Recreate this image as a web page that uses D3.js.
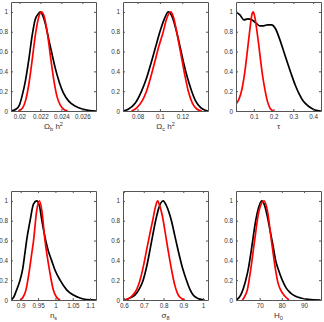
<!DOCTYPE html>
<html lang="en">
<head>
  <meta charset="UTF-8">
  <title>Marginal posteriors</title>
  <script src="https://cdn.jsdelivr.net/npm/d3@7"></script>
  <style>
    body { margin: 0; background: #fff; }
    text { font-family: "Liberation Sans", Arial, sans-serif; fill: #333; }
    .axis path, .axis line { stroke: #555; }
  </style>
</head>
<body>
<svg width="324" height="322"></svg>
<script>
// ---- data ----
var yTicks = [0, 0.2, 0.4, 0.6, 0.8, 1];

var obDomain = [0.0192, 0.0273];
var obTicks = [0.02, 0.022, 0.024, 0.026];
var obBlack = [[0.0192,0],[0.0197,0.02],[0.0200,0.06],[0.0203,0.17],[0.0206,0.32],[0.0209,0.52],[0.0212,0.75],[0.0215,0.92],[0.0218,0.98],[0.0220,1.0],[0.0222,0.97],[0.0225,0.87],[0.0228,0.72],[0.0231,0.58],[0.0234,0.44],[0.0238,0.29],[0.0242,0.18],[0.0247,0.10],[0.0253,0.05],[0.0260,0.02],[0.0267,0.005],[0.0273,0]];
var obRed = [[0.0199,0],[0.0203,0.03],[0.0206,0.11],[0.0209,0.27],[0.0212,0.5],[0.0215,0.75],[0.0218,0.93],[0.0221,1.0],[0.0224,0.94],[0.0227,0.76],[0.0230,0.52],[0.0233,0.3],[0.0236,0.14],[0.0239,0.06],[0.0242,0.02],[0.0246,0]];

var ocDomain = [0.067, 0.143];
var ocTicks = [0.08, 0.1, 0.12];
var ocBlack = [[0.067,0],[0.072,0.02],[0.078,0.08],[0.0836,0.2],[0.088,0.33],[0.0925,0.5],[0.096,0.64],[0.100,0.8],[0.104,0.93],[0.1075,1.0],[0.111,0.95],[0.1149,0.8],[0.118,0.65],[0.1209,0.5],[0.1245,0.34],[0.1284,0.2],[0.132,0.1],[0.136,0.04],[0.140,0.01],[0.143,0]];
var ocRed = [[0.0746,0],[0.079,0.03],[0.084,0.1],[0.088,0.2],[0.092,0.35],[0.0955,0.5],[0.099,0.65],[0.103,0.8],[0.106,0.93],[0.1096,1.0],[0.112,0.95],[0.115,0.8],[0.1175,0.65],[0.120,0.5],[0.1225,0.35],[0.1254,0.2],[0.129,0.08],[0.133,0.02],[0.1373,0]];

var tauDomain = [0.01, 0.44];
var tauTicks = [0.1, 0.2, 0.3, 0.4];
var tauBlack = [[0.01,1.0],[0.03,0.97],[0.05,0.92],[0.07,0.93],[0.09,0.92],[0.11,0.89],[0.13,0.86],[0.15,0.86],[0.17,0.87],[0.19,0.87],[0.21,0.83],[0.23,0.73],[0.25,0.61],[0.27,0.49],[0.29,0.37],[0.31,0.26],[0.33,0.17],[0.35,0.10],[0.37,0.06],[0.39,0.03],[0.41,0.01],[0.44,0]];
var tauRed = [[0.01,0.07],[0.025,0.12],[0.04,0.22],[0.055,0.4],[0.07,0.65],[0.08,0.82],[0.09,0.97],[0.097,1.0],[0.105,0.95],[0.115,0.82],[0.125,0.67],[0.135,0.5],[0.145,0.35],[0.155,0.23],[0.165,0.13],[0.175,0.06],[0.185,0.02],[0.2,0]];

var nsDomain = [0.872, 1.117];
var nsTicks = [0.9, 0.95, 1, 1.05, 1.1];
var nsBlack = [[0.872,0],[0.880,0.03],[0.888,0.1],[0.898,0.2],[0.906,0.32],[0.912,0.47],[0.917,0.6],[0.927,0.8],[0.937,0.97],[0.946,1.0],[0.954,0.95],[0.961,0.8],[0.972,0.6],[0.980,0.49],[0.989,0.4],[0.999,0.3],[1.0135,0.2],[1.033,0.1],[1.052,0.05],[1.071,0.02],[1.09,0.005],[1.117,0]];
var nsRed = [[0.898,0],[0.907,0.03],[0.915,0.1],[0.925,0.3],[0.931,0.45],[0.937,0.6],[0.946,0.9],[0.954,1.0],[0.961,0.9],[0.970,0.6],[0.976,0.45],[0.983,0.3],[0.994,0.1],[1.003,0.03],[1.0135,0]];

var s8Domain = [0.595, 1.025];
var s8Ticks = [0.6, 0.7, 0.8, 0.9, 1];
var s8Black = [[0.605,0],[0.63,0.02],[0.655,0.05],[0.677,0.11],[0.697,0.2],[0.714,0.33],[0.731,0.5],[0.746,0.66],[0.760,0.8],[0.778,0.94],[0.798,1.0],[0.815,0.95],[0.84,0.8],[0.857,0.65],[0.874,0.5],[0.895,0.33],[0.916,0.2],[0.933,0.11],[0.95,0.05],[0.975,0.015],[1.008,0]];
var s8Red = [[0.598,0],[0.62,0.01],[0.645,0.05],[0.665,0.11],[0.681,0.2],[0.698,0.34],[0.714,0.5],[0.730,0.66],[0.745,0.8],[0.758,0.93],[0.770,1.0],[0.781,0.95],[0.795,0.84],[0.807,0.7],[0.82,0.54],[0.832,0.4],[0.845,0.26],[0.857,0.15],[0.870,0.07],[0.882,0.03],[0.907,0]];

var h0Domain = [59.3, 97.7];
var h0Ticks = [70, 80, 90];
var h0Black = [[59.5,0],[61.4,0.05],[63.7,0.2],[65.0,0.33],[66.2,0.5],[68.2,0.8],[69.5,0.93],[70.9,1.0],[72.3,0.95],[73.5,0.84],[74.7,0.7],[76.0,0.55],[77.2,0.4],[78.7,0.29],[80.2,0.2],[82.0,0.12],[84.0,0.07],[86.0,0.04],[88.5,0.02],[92,0.007],[97.5,0]];
var h0Red = [[62.2,0],[63.3,0.04],[64.4,0.1],[65.9,0.3],[67.7,0.6],[69.7,0.9],[72.0,1.0],[73.5,0.9],[75.3,0.6],[77.2,0.3],[78.3,0.17],[79.5,0.1],[81.3,0.04],[83.2,0]];

var panels = [
  {x: 11, y: 2, domain: obDomain, ticks: obTicks, black: obBlack, red: obRed, label: ["\u03A9", "b", " h", "2"]},
  {x: 123, y: 2, domain: ocDomain, ticks: ocTicks, black: ocBlack, red: ocRed, label: ["\u03A9", "c", " h", "2"]},
  {x: 236, y: 2, domain: tauDomain, ticks: tauTicks, black: tauBlack, red: tauRed, label: ["\u03C4"]},
  {x: 11, y: 191, domain: nsDomain, ticks: nsTicks, black: nsBlack, red: nsRed, label: ["n", "s"]},
  {x: 123, y: 191, domain: s8Domain, ticks: s8Ticks, black: s8Black, red: s8Red, label: ["\u03C3", "8"]},
  {x: 236, y: 191, domain: h0Domain, ticks: h0Ticks, black: h0Black, red: h0Red, label: ["H", "0"]}
];

var pw = 85, ph = 109;
var svg = d3.select("svg");
var fmt = function(d) { return String(d); };

panels.forEach(function(p, i) {
  var g = svg.append("g").attr("transform", "translate(" + p.x + "," + p.y + ")");
  var x = d3.scaleLinear().domain(p.domain).range([0, pw]);
  var y = d3.scaleLinear().domain([0, 1.1]).range([ph, 0]);

  g.append("clipPath").attr("id", "c" + i)
    .append("rect").attr("width", pw).attr("height", ph);

  var line = d3.line()
    .x(function(d) { return x(d[0]); })
    .y(function(d) { return y(d[1]); })
    .curve(d3.curveMonotoneX);

  var plot = g.append("g").attr("clip-path", "url(#c" + i + ")");
  plot.append("path").datum(p.black)
    .attr("d", line).attr("fill", "none").attr("stroke", "#000").attr("stroke-width", 1.7);
  plot.append("path").datum(p.red)
    .attr("d", line).attr("fill", "none").attr("stroke", "#f00").attr("stroke-width", 1.7);

  // axes, matlab style: inward ticks, boxed
  g.append("g").attr("class", "axis").attr("transform", "translate(0," + ph + ")")
    .call(d3.axisBottom(x).tickValues(p.ticks).tickFormat(fmt).tickSizeInner(-2).tickSizeOuter(0).tickPadding(4));
  g.append("g").attr("class", "axis")
    .call(d3.axisLeft(y).tickValues(yTicks).tickFormat(fmt).tickSizeInner(-2).tickSizeOuter(0).tickPadding(3));
  g.append("g").attr("class", "axis")
    .call(d3.axisTop(x).tickValues(p.ticks).tickFormat("").tickSizeInner(-2).tickSizeOuter(0));
  g.append("g").attr("class", "axis").attr("transform", "translate(" + pw + ",0)")
    .call(d3.axisRight(y).tickValues(yTicks).tickFormat("").tickSizeInner(-2).tickSizeOuter(0));
  g.selectAll(".axis text").style("font-size", "6.3px").attr("fill", "#333");
  g.selectAll(".axis .domain").attr("stroke", "#555");

  // x label with sub/superscripts
  var t = g.append("text").attr("x", pw / 2).attr("y", ph + 18)
    .attr("text-anchor", "middle").style("font-size", "8px");
  t.append("tspan").text(p.label[0]);
  if (p.label.length > 1) {
    t.append("tspan").attr("dy", 2).style("font-size", "5.5px").text(p.label[1]);
  }
  if (p.label.length > 2) {
    t.append("tspan").attr("dy", -2).text(p.label[2]);
    t.append("tspan").attr("dy", -3).style("font-size", "5.5px").text(p.label[3]);
  }
});
</script>
</body>
</html>
